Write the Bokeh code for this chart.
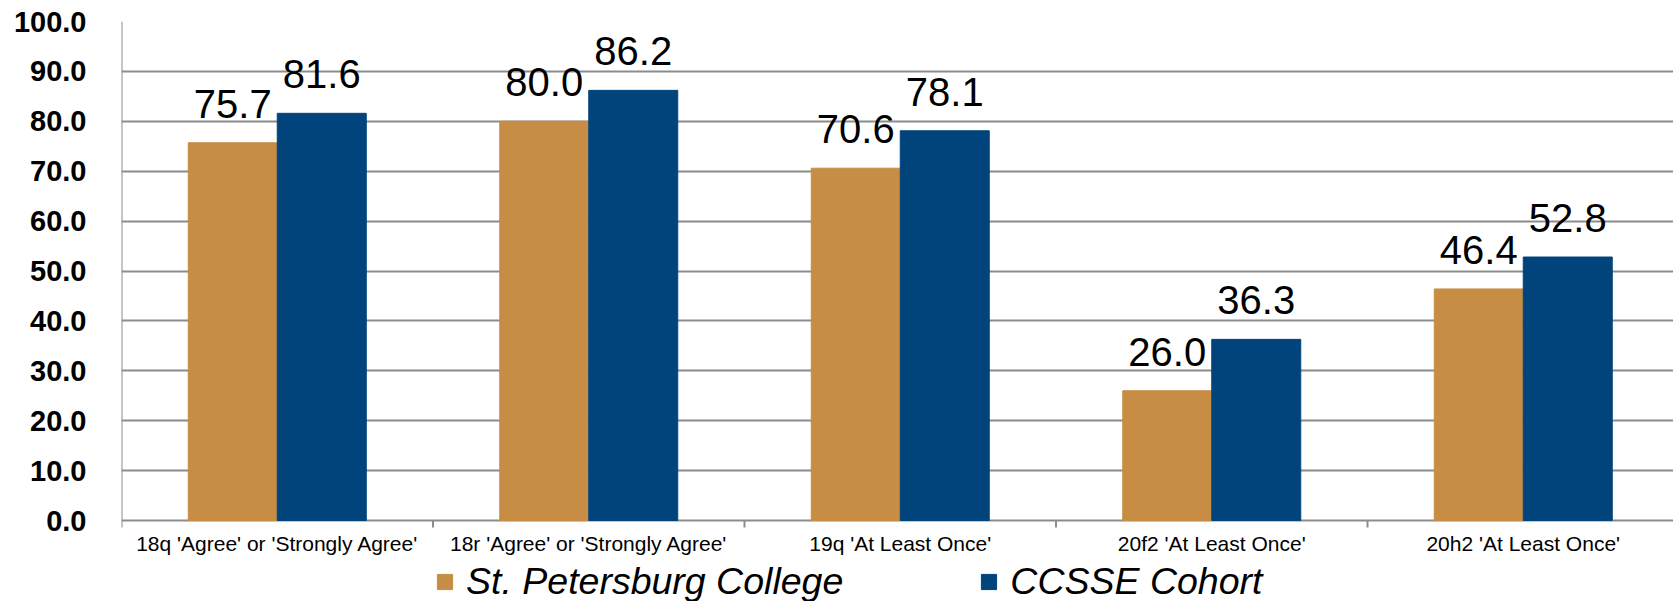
from bokeh.plotting import figure
from bokeh.models import (Range1d, FixedTicker, PrintfTickFormatter, Legend, LegendItem,
                          ColumnDataSource)
from bokeh.core.properties import value
from bokeh.embed import file_html
from bokeh.resources import INLINE

categories = ["18q 'Agree' or 'Strongly Agree'", "18r 'Agree' or 'Strongly Agree'",
              "19q 'At Least Once'", "20f2 'At Least Once'", "20h2 'At Least Once'"]
spc = [75.7, 80.0, 70.6, 26.0, 46.4]
ccsse = [81.6, 86.2, 78.1, 36.3, 52.8]
series_names = ["St. Petersburg College", "CCSSE Cohort"]
y_ticks = [0, 10, 20, 30, 40, 50, 60, 70, 80, 90, 100]

ORANGE = "#C78D44"
BLUE = "#01447B"
GRID = "#8C8C8C"
FONT = "Liberation Sans"

W, H = 1673, 601
LEFT, TOP = 121, 21
ZERO_PX = 520            # pixel row of value 0
cat_px = 311.5
x_end = (W - LEFT) / cat_px
px_per_unit = (ZERO_PX - TOP) / 100.0
y_start = -(H - ZERO_PX) / px_per_unit

bw = 2.0 / 7.0  # bar width relative to category (gap 150%)
n = len(categories)
centers = [i + 0.5 for i in range(n)]
bounds = list(range(n + 1))
x_spc = [c - bw / 2 for c in centers]
x_cc = [c + bw / 2 for c in centers]

p = figure(width=W, height=H, output_backend="svg", toolbar_location=None,
           x_range=Range1d(0, x_end), y_range=Range1d(y_start, 100),
           x_axis_location=None,
           min_border_left=LEFT, min_border_top=TOP, min_border_bottom=0,
           min_border_right=0)
p.outline_line_color = None
p.background_fill_color = "white"
p.border_fill_color = "white"

src1 = ColumnDataSource(dict(x=x_spc, top=spc, lab=[f"{v:.1f}" for v in spc]))
src2 = ColumnDataSource(dict(x=x_cc, top=ccsse, lab=[f"{v:.1f}" for v in ccsse]))

# grid (horizontal lines incl. the zero baseline)
p.xgrid.grid_line_color = None
p.ygrid.ticker = FixedTicker(ticks=y_ticks)
p.ygrid.grid_line_color = GRID
p.ygrid.grid_line_width = 2

# left axis line and category boundary ticks
p.segment(x0=[0], y0=[0], x1=[0], y1=[100], line_color=GRID, line_width=2)
tick_len = 7 / px_per_unit
p.segment(x0=bounds, y0=[0] * len(bounds), x1=bounds, y1=[-tick_len] * len(bounds),
          line_color=GRID, line_width=2)

r1 = p.vbar(x="x", top="top", width=bw, bottom=0, source=src1,
            fill_color=ORANGE, line_color=ORANGE)
r2 = p.vbar(x="x", top="top", width=bw, bottom=0, source=src2,
            fill_color=BLUE, line_color=BLUE)

for src in (src1, src2):
    p.text(x="x", y="top", text="lab", source=src, text_align="center",
           text_baseline="alphabetic", y_offset=-39,
           text_font=value(FONT), text_font_size="40px", text_color="black")

# category labels
p.text(x=centers, y=[0] * n, text=categories, text_align="center",
       text_baseline="alphabetic", y_offset=23,
       text_font=value(FONT), text_font_size="21px", text_color="black")

# y axis
ya = p.yaxis[0]
ya.ticker = FixedTicker(ticks=y_ticks)
ya.formatter = PrintfTickFormatter(format="%.1f")
ya.major_tick_line_color = None
ya.minor_tick_line_color = None
ya.axis_line_color = None
ya.major_label_standoff = 29
ya.major_label_text_font = FONT
ya.major_label_text_font_style = "bold"
ya.major_label_text_font_size = "29px"
ya.major_label_text_color = "black"

legend = Legend(items=[LegendItem(label=series_names[0], renderers=[r1]),
                       LegendItem(label=series_names[1], renderers=[r2])],
                location=(314, -2), orientation="horizontal",
                glyph_width=19, glyph_height=19, label_standoff=12, spacing=136,
                padding=0, margin=0, border_line_color=None,
                background_fill_alpha=0,
                label_text_font=FONT, label_text_font_style="italic",
                label_text_font_size="37.5px", label_text_color="black")
p.add_layout(legend, "center")

open("out.html", "w").write(file_html(p, INLINE))
